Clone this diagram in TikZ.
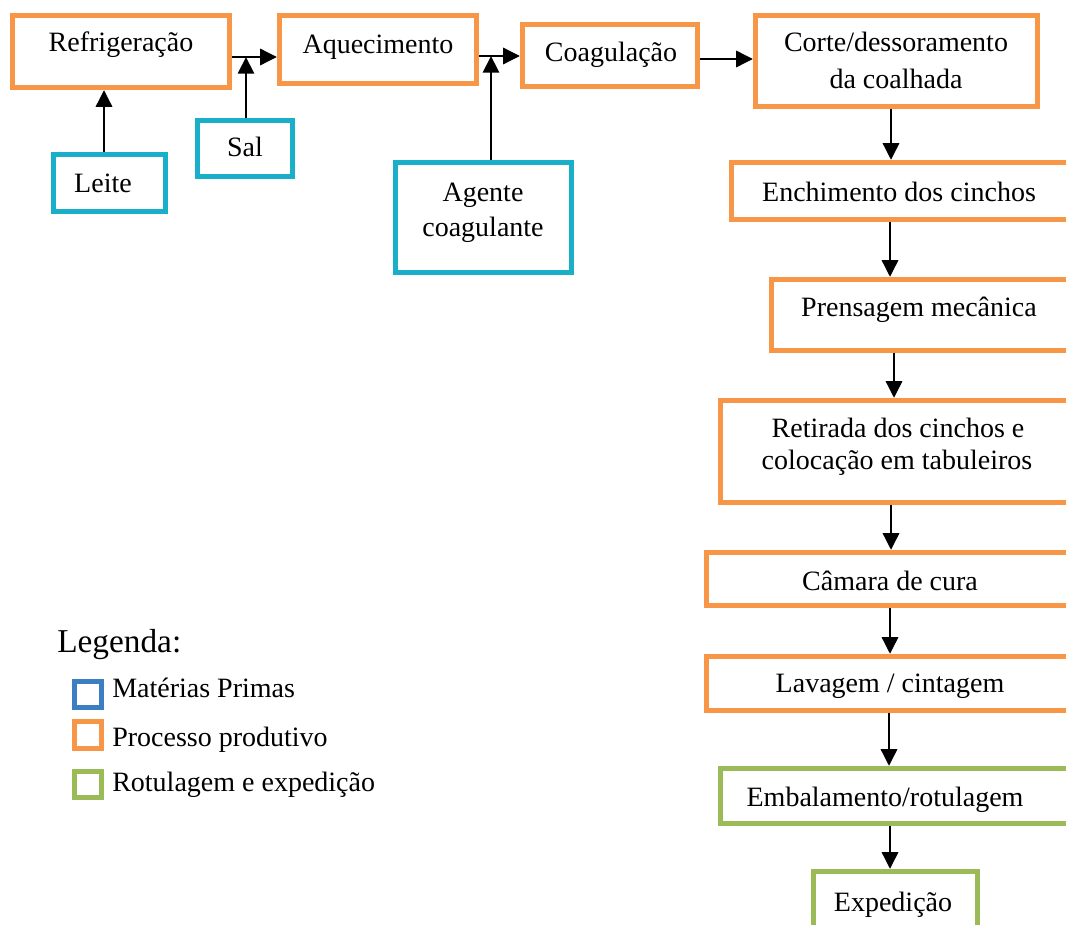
\documentclass[tikz,border=0pt]{standalone}
\usepackage{fontspec}
\setmainfont{Liberation Serif}
\usetikzlibrary{arrows.meta,fit}
\definecolor{orng}{HTML}{F79646}
\definecolor{cyanb}{HTML}{1AAFC8}
\definecolor{grn}{HTML}{9BBB59}
\definecolor{legblue}{HTML}{3B7EC2}
\begin{document}
\begin{tikzpicture}[x=0.75pt,y=-0.75pt,
  box/.style={draw, line width=3.9pt, inner sep=0pt, fill=white},
  proc/.style={box, draw=orng},
  raw/.style={box, draw=cyanb},
  lab/.style={box, draw=grn},
  legsq/.style={draw, line width=3.4pt, inner sep=0pt, fill=white},
  txt/.style={font=\fontsize{21}{25}\selectfont, inner sep=0pt, anchor=base},
  legtxt/.style={font=\fontsize{21}{25}\selectfont, inner sep=0pt, anchor=base west},
  arr/.style={line width=2.2pt, -{Triangle[length=12.5pt,width=12pt]}}
]
\useasboundingbox (0,0) rectangle (1066,924);
\clip (0,0) rectangle (1066,924);

% boxes
\node[proc, fit={(12.5,15.5)(229.5,87.5)}] (refrig) {};
\node[proc, fit={(279.5,15.5)(476.5,83.5)}] (aq) {};
\node[proc, fit={(522.5,24.5)(697.5,86.5)}] (coag) {};
\node[proc, fit={(755.5,15.5)(1037.5,106.5)}] (corte) {};
\node[raw, fit={(53.5,154.5)(165.5,211.5)}] (leite) {};
\node[raw, fit={(197.5,120.5)(292.5,176.5)}] (sal) {};
\node[raw, fit={(395.5,162.5)(571.5,272.5)}] (agente) {};
\node[proc, fit={(731.5,162.5)(1080,219.5)}] (ench) {};
\node[proc, fit={(771.5,279.5)(1080,350.5)}] (prens) {};
\node[proc, fit={(720.5,400.5)(1080,502.5)}] (retir) {};
\node[proc, fit={(706.5,552.5)(1080,605.5)}] (camara) {};
\node[proc, fit={(706.5,656.5)(1080,710.5)}] (lavag) {};
\node[lab, fit={(720.5,768.5)(1080,823.5)}] (emb) {};
\node[lab, fit={(813.5,871.5)(977.5,940)}] (exped) {};

% texts
\node[txt] (tRefrig) at (121,52) {Refrigeração};
\node[txt] (tAq) at (378,54) {Aquecimento};
\node[txt] (tCoag) at (611,61) {Coagulação};
\node[txt] (tCorteA) at (896,52) {Corte/dessoramento};
\node[txt] (tCorteB) at (896,89) {da coalhada};
\node[txt] (tLeite) at (103,192) {Leite};
\node[txt] (tSal) at (245,156) {Sal};
\node[txt] (tAgA) at (483,201) {Agente};
\node[txt] (tAgB) at (483,236) {coagulante};
\node[txt] (tEnch) at (899,201) {Enchimento dos cinchos};
\node[txt] (tPrens) at (919,316) {Prensagem mecânica};
\node[txt] (tRetA) at (898,437) {Retirada dos cinchos e};
\node[txt] (tRetB) at (897,469) {colocação em tabuleiros};
\node[txt] (tCam) at (890,590) {Câmara de cura};
\node[txt] (tLav) at (890,692) {Lavagem / cintagem};
\node[txt] (tEmb) at (885,806) {Embalamento/rotulagem};
\node[txt] (tExp) at (893,911) {Expedição};

% junctions
\coordinate (j1) at (246,57);
\coordinate (j2) at (491,56);

% connectors
\draw[arr] (refrig.east |- j1) -- (aq.west |- j1);
\draw[arr] (aq.east |- j2) -- (coag.west |- j2);
\draw[arr] (104,0 |- leite.north) -- (104,0 |- refrig.south);
\draw[arr] (j1 |- sal.north) -- (j1);
\draw[arr] (j2 |- agente.north) -- (j2);
\draw[arr] (coag.east |- 0,59) -- (corte.west |- 0,59);
\draw[arr] (891,0 |- corte.south) -- (891,0 |- ench.north);
\draw[arr] (890,0 |- ench.south) -- (890,0 |- prens.north);
\draw[arr] (894,0 |- prens.south) -- (894,0 |- retir.north);
\draw[arr] (891,0 |- retir.south) -- (891,0 |- camara.north);
\draw[arr] (890,0 |- camara.south) -- (890,0 |- lavag.north);
\draw[arr] (889,0 |- lavag.south) -- (889,0 |- emb.north);
\draw[arr] (890,0 |- emb.south) -- (890,0 |- exped.north);

% legend
\node[font=\fontsize{25}{30}\selectfont, inner sep=0pt, anchor=base west] (legtitle) at (57,652) {Legenda:};
\node[legsq, draw=legblue, fit={(74.3,681.3)(101.7,707.7)}] (sqBlue) {};
\node[legsq, draw=orng, fit={(74.3,721.3)(101.7,748.7)}] (sqOrange) {};
\node[legsq, draw=grn, fit={(74.3,771.3)(101.7,797.7)}] (sqGreen) {};
\node[legtxt] (lBlue) at (112,697) {Matérias Primas};
\node[legtxt] (lOrange) at (112,746) {Processo produtivo};
\node[legtxt] (lGreen) at (112,791) {Rotulagem e expedição};
\end{tikzpicture}
\end{document}
